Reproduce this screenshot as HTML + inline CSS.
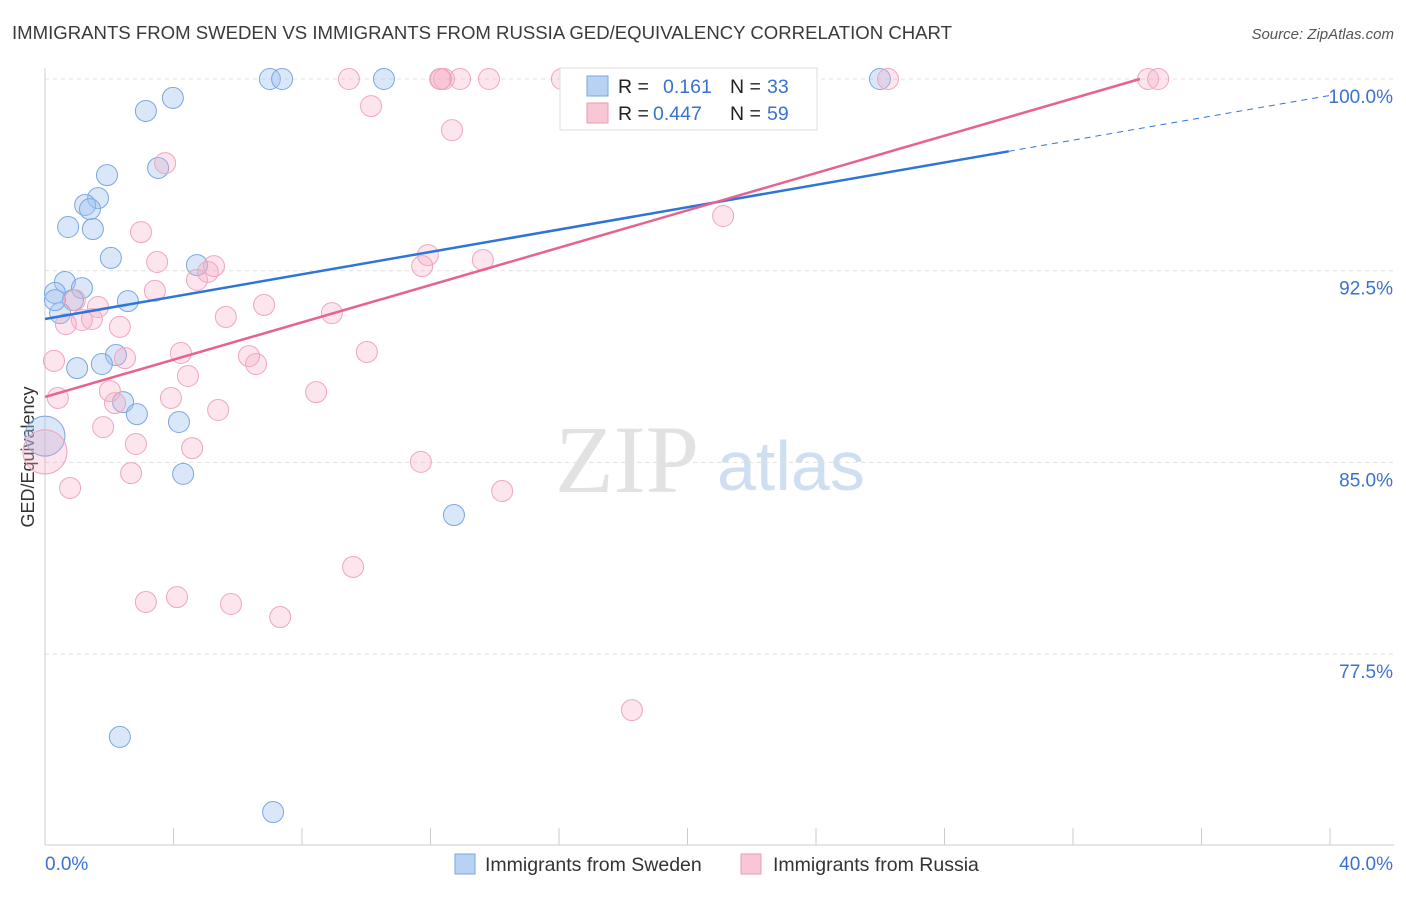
<!DOCTYPE html>
<html><head><meta charset="utf-8"><style>
body{margin:0;background:#fff;font-family:"Liberation Sans",sans-serif}
svg text{font-family:"Liberation Sans",sans-serif}
</style></head><body>
<svg id="chart" width="1406" height="892" viewBox="0 0 1406 892">
<text x="12" y="39" font-size="18.4" fill="#3a3a3a" textLength="940" lengthAdjust="spacingAndGlyphs">IMMIGRANTS FROM SWEDEN VS IMMIGRANTS FROM RUSSIA GED/EQUIVALENCY CORRELATION CHART</text>
<text x="1394" y="39" font-size="15" fill="#555" font-style="italic" text-anchor="end">Source: ZipAtlas.com</text>
<text x="555" y="492" font-size="96" fill="#e2e2e2" style="font-family:'Liberation Serif',serif">ZIP</text>
<text x="717" y="490" font-size="70" fill="#cfdff2">atlas</text>
<text transform="translate(34,457) rotate(-90)" font-size="18" fill="#333" text-anchor="middle">GED/Equivalency</text>
<g id="grid"></g><g id="pts"></g><g id="lines"></g>
<g>
<rect x="560" y="68" width="257" height="62" fill="#fff" stroke="#ddd"/>
<rect x="587" y="76" width="21" height="20" fill="#b8d2f3" stroke="#7aa7e0"/>
<rect x="587" y="103" width="21" height="20" fill="#f8c6d4" stroke="#eb9bb3"/>
<text x="618" y="93" font-size="19.5" fill="#222">R = <tspan x="663" fill="#3a72d0">0.161</tspan><tspan x="730" fill="#222">N = </tspan><tspan x="767" fill="#3a72d0">33</tspan></text>
<text x="618" y="120" font-size="19.5" fill="#222">R = <tspan x="653" fill="#3a72d0">0.447</tspan><tspan x="730" fill="#222">N = </tspan><tspan x="767" fill="#3a72d0">59</tspan></text>
</g>
<g>
<rect x="455" y="854" width="20" height="20" fill="#b8d2f3" stroke="#7aa7e0"/>
<text x="485" y="871" font-size="19.5" fill="#333">Immigrants from Sweden</text>
<rect x="741" y="854" width="20" height="20" fill="#f8c6d4" stroke="#eb9bb3"/>
<text x="773" y="871" font-size="19.5" fill="#333">Immigrants from Russia</text>
</g>
</svg>
<script>
const yTicks=[100,92.5,85,77.5];
const yTickLabels=["100.0%","92.5%","85.0%","77.5%"];
const xTickLabels=["0.0%","40.0%"];
const swedenX=[7.00,7.38,10.55,25.99,3.14,3.98,3.52,1.93,1.65,1.25,1.40,0.72,1.49,2.05,4.73,0.62,1.15,0.31,0.87,2.58,0.47,2.21,1.77,1.00,2.43,2.86,4.17,0,4.30,12.73,2.33,7.10,0.31];
const swedenY=[100,100,100,100,98.75,99.26,96.52,96.24,95.34,95.07,94.91,94.21,94.13,93.00,92.72,92.06,91.82,91.63,91.35,91.31,90.84,89.20,88.85,88.69,87.36,86.89,86.58,86.03,84.55,82.94,74.26,71.32,91.35];
const russiaX=[9.46,12.33,12.42,12.92,13.82,16.09,26.24,34.34,34.65,12.30,10.15,12.67,3.74,21.11,2.99,3.49,11.92,13.63,5.26,11.74,4.73,5.07,3.42,6.82,0.93,1.65,5.63,8.93,1.15,1.46,0.65,2.33,0.28,4.23,10.02,6.35,6.57,2.49,4.45,2.02,8.44,0.40,3.92,2.18,5.39,1.81,2.83,4.58,11.70,2.68,0.78,14.23,9.59,3.14,4.11,5.79,7.32,18.27,0];
const russiaY=[100,100,100,100,100,100,100,100,100,100,98.94,98.00,96.71,94.64,94.01,92.84,93.11,92.92,92.68,92.68,92.14,92.45,91.71,91.16,91.35,91.08,90.69,90.84,90.57,90.61,90.41,90.30,88.97,89.28,89.32,89.16,88.85,89.08,88.38,87.79,87.75,87.52,87.52,87.32,87.05,86.38,85.72,85.56,85.02,84.58,84.00,83.88,80.91,79.54,79.73,79.46,78.95,75.31,85.41];
const swedenFit=[90.61,0.2187];
const russiaFit=[87.56,0.365];
const NS="http://www.w3.org/2000/svg";
const X=v=>45+v/40*1285, Y=v=>79+(100-v)/7.5*191.7;
function mk(t,a,p){const e=document.createElementNS(NS,t);for(const k in a)e.setAttribute(k,a[k]);p.appendChild(e);return e;}
const grid=document.getElementById('grid');
yTicks.forEach((t,i)=>{
 const l=mk('line',{x1:45,x2:1394,y1:Y(t),y2:Y(t),stroke:'#e0e0e0','stroke-dasharray':'4,4'},grid);
 
 
 const tx=mk('text',{x:1393,y:Y(t)+24,'font-size':19,fill:'#3a72d0','text-anchor':'end'},grid);
 tx.textContent=yTickLabels[i];
 
 
});
const ax=mk('line',{x1:45,x2:45,y1:68,y2:845,stroke:'#ccc'},grid);


const bx=mk('line',{x1:45,x2:1394,y1:845,y2:845,stroke:'#ccc'},grid);


for(let i=0;i<=10;i++){const tk=mk('line',{x1:X(i*4),x2:X(i*4),y1:828,y2:845,stroke:'#ccc'},grid);
 
 }
[[0,45,'start'],[40,1393,'end']].forEach((d,i)=>{const t=mk('text',{x:d[1],y:870,'font-size':19,fill:'#3a72d0','text-anchor':d[2]},grid);t.textContent=xTickLabels[i];
 
 });
const pts=document.getElementById('pts');
function dots(xs,ys,fill,stroke,name){xs.forEach((x,i)=>{let r=10.5;if(x===0)r=name==='russia-point'?22:20;
 const c=mk('circle',{cx:X(x),cy:Y(ys[i]),r:r,fill:fill,stroke:stroke,'stroke-width':1},pts);
 
 });}
dots(swedenX,swedenY,'rgba(160,195,240,0.4)','#7aa7e0','sweden-point');
dots(russiaX,russiaY,'rgba(245,170,195,0.3)','#eea6bd','russia-point');
const lines=document.getElementById('lines');
const f=(p,x)=>p[0]+p[1]*x;
const b1=mk('line',{x1:X(0),y1:Y(f(swedenFit,0)),x2:X(30),y2:Y(f(swedenFit,30)),stroke:'#2f74d8','stroke-width':2.5},lines);


const b2=mk('line',{x1:X(30),y1:Y(f(swedenFit,30)),x2:X(40),y2:Y(f(swedenFit,40)),stroke:'#2f74d8','stroke-width':1,'stroke-dasharray':'6,5'},lines);


const xe=(100-russiaFit[0])/russiaFit[1];
const p1=mk('line',{x1:X(0),y1:Y(f(russiaFit,0)),x2:X(xe),y2:Y(f(russiaFit,xe)),stroke:'#e8628f','stroke-width':2.5},lines);


</script>
</body></html>
